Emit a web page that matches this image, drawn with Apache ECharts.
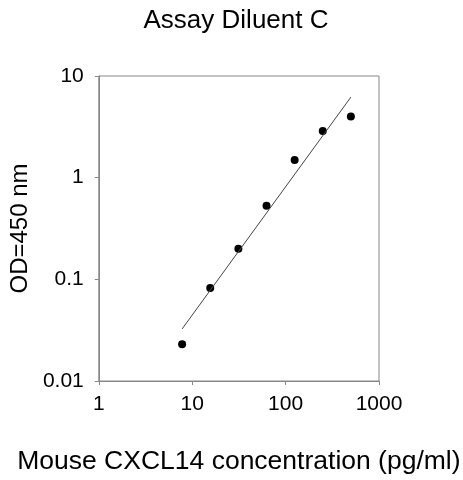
<!DOCTYPE html>
<html>
<head>
<meta charset="utf-8">
<script src="https://cdn.jsdelivr.net/npm/echarts@6/dist/echarts.min.js"></script>
<style>html,body{margin:0;padding:0;background:#fff;}#c{width:463px;height:480px;}</style>
</head>
<body>
<div id="c"></div>
<script>
var concentrations = [7.8, 15.6, 31.25, 62.5, 125, 250, 500];
var odValues = [0.023, 0.082, 0.2, 0.53, 1.49, 2.88, 4.0];
var trendX = [7.8, 500];
var trendY = [0.0325, 6.2];
var titleText = 'Assay Diluent C';
var xName = 'Mouse CXCL14 concentration (pg/ml)';
var yName = 'OD=450 nm';

var pts = concentrations.map(function(x, i){ return [x, odValues[i]]; });
var trend = trendX.map(function(x, i){ return [x, trendY[i]]; });
var FONT = 'Liberation Sans, Arial, sans-serif';
function fmt(v){ return String(+(+v).toPrecision(3)); }

var chart = echarts.init(document.getElementById('c'));
chart.setOption({
  backgroundColor: '#fff',
  animation: false,
  title: {
    text: titleText, left: 231, top: 3, textAlign: 'center',
    textStyle: {fontFamily: FONT, fontSize: 26, fontWeight: 'normal', color: '#000'}
  },
  grid: {left: 96, top: 76, width: 283, height: 305, show: true, borderColor: '#888', borderWidth: 1, backgroundColor: 'transparent'},
  xAxis: {
    type: 'log', logBase: 10, min: 1, max: 1000,
    name: xName, nameLocation: 'middle', nameGap: 67,
    nameTextStyle: {fontFamily: FONT, fontSize: 26.5, color: '#000'},
    axisLine: {show: true, lineStyle: {color: '#888', width: 1}},
    axisTick: {show: true, inside: false, length: 4, lineStyle: {color: '#888'}},
    axisLabel: {fontFamily: FONT, fontSize: 21, color: '#000', margin: 13, formatter: fmt},
    splitLine: {show: false},
    minorTick: {show: false}
  },
  yAxis: {
    type: 'log', logBase: 10, min: 0.01, max: 10,
    name: yName, nameLocation: 'middle', nameGap: 62, nameRotate: 90,
    nameTextStyle: {fontFamily: FONT, fontSize: 24, color: '#000'},
    axisLine: {show: true, lineStyle: {color: '#888', width: 1}},
    axisTick: {show: true, inside: false, length: 4, lineStyle: {color: '#888'}},
    axisLabel: {fontFamily: FONT, fontSize: 21, color: '#000', margin: 15, formatter: fmt},
    splitLine: {show: false}
  },
  series: [
    {type: 'line', data: trend, symbol: 'none', lineStyle: {color: '#444', width: 1}, silent: true},
    {type: 'scatter', data: pts, symbol: 'circle', symbolSize: 8, itemStyle: {color: '#000', opacity: 1}}
  ]
});
</script>
</body>
</html>
